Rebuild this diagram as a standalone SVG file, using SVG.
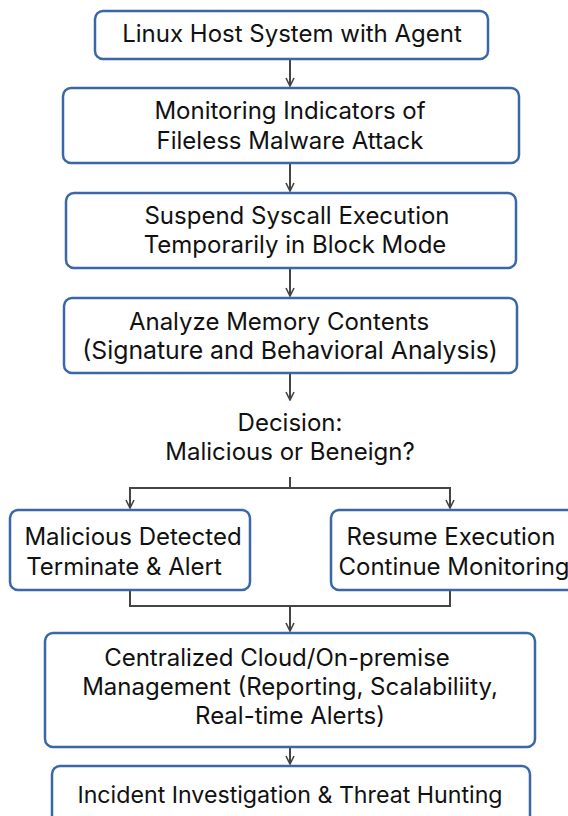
<svg xmlns="http://www.w3.org/2000/svg" width="568" height="816" viewBox="0 0 568 816">
<defs>
<marker id="ah" viewBox="0 0 10 10" refX="9" refY="5" markerWidth="10" markerHeight="10" markerUnits="userSpaceOnUse" orient="auto">
<path d="M1,1 L9,5 L1,9" fill="none" stroke="#444" stroke-width="1.6"/>
</marker>
<style>
.box{fill:#fff;stroke:#3b67a9;stroke-width:2.5}
.t{font-family:Inter,"Noto Sans",sans-serif;font-size:24px;fill:#111;text-anchor:middle}
.c{fill:none;stroke:#444;stroke-width:2}
</style>
</defs>
<rect width="568" height="816" fill="#fff"/>
<g id="connectors">
<line class="c" x1="290" y1="59" x2="290" y2="86" marker-end="url(#ah)"/>
<line class="c" x1="290" y1="164" x2="290" y2="191" marker-end="url(#ah)"/>
<line class="c" x1="290" y1="269" x2="290" y2="296" marker-end="url(#ah)"/>
<line class="c" x1="290" y1="374" x2="290" y2="400" marker-end="url(#ah)"/>
<polyline class="c" points="290,477 290,488"/>
<polyline class="c" points="130,507 130,488 450,488 450,507"/>
<line class="c" x1="130" y1="488" x2="130" y2="508" marker-end="url(#ah)"/>
<line class="c" x1="450" y1="488" x2="450" y2="508" marker-end="url(#ah)"/>
<polyline class="c" points="130,591 130,606 450,606 450,591"/>
<line class="c" x1="290" y1="606" x2="290" y2="631" marker-end="url(#ah)"/>
<line class="c" x1="290" y1="748" x2="290" y2="764" marker-end="url(#ah)"/>
</g>
<g id="n1"><rect class="box" x="95" y="11" width="393" height="48" rx="8"/><text class="t" x="292" y="42">Linux Host System with Agent</text></g>
<g id="n2"><rect class="box" x="63" y="88" width="456" height="75" rx="8"/><text class="t" x="290" y="119">Monitoring Indicators of</text><text class="t" x="290" y="149">Fileless Malware Attack</text></g>
<g id="n3"><rect class="box" x="66" y="193" width="450" height="75" rx="8"/><text class="t" x="297" y="224">Suspend Syscall Execution</text><text class="t" x="295" y="253">Temporarily in Block Mode</text></g>
<g id="n4"><rect class="box" x="64" y="298" width="453" height="75" rx="8"/><text class="t" x="279" y="330">Analyze Memory Contents</text><text class="t" x="290" y="359" style="font-size:24.8px">(Signature and Behavioral Analysis)</text></g>
<g id="decision"><text class="t" x="290" y="431">Decision:</text><text class="t" x="290" y="460">Malicious or Beneign?</text></g>
<g id="n5"><rect class="box" x="10" y="510" width="240" height="80" rx="8"/><text class="t" x="133" y="545">Malicious Detected</text><text class="t" x="124" y="575">Terminate &amp; Alert</text></g>
<g id="n6"><rect class="box" x="331" y="510" width="245" height="80" rx="8"/><text class="t" x="451" y="545">Resume Execution</text><text class="t" x="454" y="575">Continue Monitoring</text></g>
<g id="n7"><rect class="box" x="45" y="633" width="490" height="114" rx="8"/><text class="t" x="277" y="666">Centralized Cloud/On-premise</text><text class="t" x="290" y="695">Management (Reporting, Scalabiliity,</text><text class="t" x="290" y="724">Real-time Alerts)</text></g>
<g id="n8"><rect class="box" x="52" y="766" width="478" height="60" rx="8"/><text class="t" x="290" y="803" style="font-size:23.2px">Incident Investigation &amp; Threat Hunting</text></g>
</svg>
